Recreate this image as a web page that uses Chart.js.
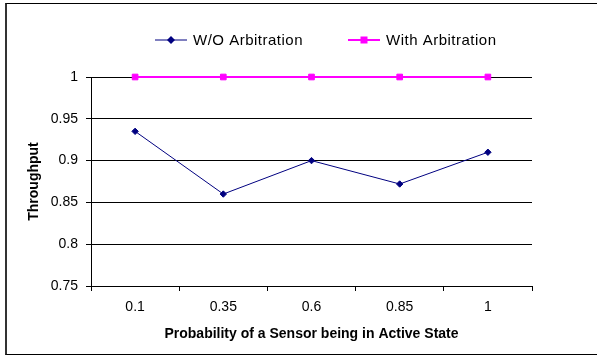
<!DOCTYPE html>
<html lang="en">
<head>
  <meta charset="UTF-8" />
  <title>Throughput vs Probability of Active State</title>
  <script src="https://cdn.jsdelivr.net/npm/chart.js"></script>
  <style>
    body {
      margin: 0;
      background: #fff;
      overflow: hidden;
    }
    .frame {
      position: absolute;
      left: 5px;
      top: 3px;
      width: 640px;
      height: 350px;
      border-top: 1px solid #000;
      border-bottom: 1px solid #000;
      border-left: 2px solid #333;
    }
    #chart {
      position: absolute;
      left: 0;
      top: 0;
    }
  </style>
</head>
<body>
  <div class="frame"></div>
  <canvas id="chart" width="597" height="356"></canvas>

  <script>
    // data
    const probLabels = ['0.1', '0.35', '0.6', '0.85', '1'];
    const withoutArb = [0.935, 0.86, 0.9, 0.872, 0.91];
    const withArb = [1, 1, 1, 1, 1];

    const NAVY = '#000080';
    const MAGENTA = '#ff00ff';
    const FONT = '"Liberation Sans", Arial, sans-serif';

    // legend drawn by hand: line + marker + text, like the Excel one
    const legendPos = [155, 348];
    const excelLegend = {
      id: 'excelLegend',
      afterDraw(chart) {
        const ctx = chart.ctx;
        const y = 40;
        ctx.save();
        chart.data.datasets.forEach((ds, i) => {
          const x0 = legendPos[i];
          ctx.strokeStyle = ds.borderColor;
          ctx.lineWidth = ds.borderWidth;
          ctx.beginPath();
          ctx.moveTo(x0, y);
          ctx.lineTo(x0 + 32, y);
          ctx.stroke();

          const cx = x0 + 16;
          ctx.fillStyle = ds.pointBackgroundColor;
          ctx.beginPath();
          if (ds.pointStyle === 'rectRot') {
            ctx.moveTo(cx, y - 4);
            ctx.lineTo(cx + 4, y);
            ctx.lineTo(cx, y + 4);
            ctx.lineTo(cx - 4, y);
            ctx.closePath();
          } else {
            ctx.rect(cx - 3.5, y - 3.5, 7, 7);
          }
          ctx.fill();

          ctx.fillStyle = '#000';
          ctx.font = '15px ' + FONT;
          if ('letterSpacing' in ctx) ctx.letterSpacing = '0.5px';
          ctx.textBaseline = 'middle';
          ctx.textAlign = 'left';
          ctx.fillText(ds.label, x0 + 38, y + 1);
        });
        ctx.restore();
      }
    };

    new Chart(document.getElementById('chart'), {
      type: 'line',
      data: {
        labels: probLabels,
        datasets: [
          {
            label: 'W/O Arbitration',
            data: withoutArb,
            borderColor: NAVY,
            backgroundColor: NAVY,
            borderWidth: 1,
            pointStyle: 'rectRot',
            pointRadius: 3.2,
            pointBorderWidth: 1,
            pointBackgroundColor: NAVY,
            pointBorderColor: NAVY,
            tension: 0,
            clip: false
          },
          {
            label: 'With Arbitration',
            data: withArb,
            borderColor: MAGENTA,
            backgroundColor: MAGENTA,
            borderWidth: 2,
            pointStyle: 'rect',
            pointRadius: 4,
            pointBorderWidth: 1,
            pointBackgroundColor: MAGENTA,
            pointBorderColor: MAGENTA,
            tension: 0,
            clip: false
          }
        ]
      },
      options: {
        responsive: false,
        animation: false,
        devicePixelRatio: 1,
        layout: {
          padding: { left: 0, top: 77, right: 65, bottom: 0 }
        },
        plugins: {
          legend: { display: false },
          tooltip: { enabled: false }
        },
        scales: {
          x: {
            type: 'category',
            offset: true,
            afterFit: s => { s.height = 70; },
            grid: {
              offset: true,
              drawOnChartArea: false,
              drawTicks: true,
              tickLength: 5,
              color: '#000',
              tickColor: '#000',
              lineWidth: 1
            },
            border: { display: true, color: '#000', width: 1 },
            ticks: {
              color: '#000',
              padding: 8,
              maxRotation: 0,
              font: { family: FONT, size: 14 }
            },
            title: {
              display: true,
              text: 'Probability of a Sensor being in Active State',
              color: '#000',
              padding: { top: 0, bottom: 13 },
              font: { family: FONT, size: 14, weight: 'bold' }
            }
          },
          y: {
            min: 0.75,
            max: 1,
            afterFit: s => { s.width = 91; },
            grid: {
              color: '#000',
              tickColor: '#000',
              lineWidth: 1,
              drawTicks: true,
              tickLength: 5
            },
            border: { display: true, color: '#000', width: 1 },
            ticks: {
              stepSize: 0.05,
              color: '#000',
              padding: 8,
              font: { family: FONT, size: 14 },
              callback: v => String(Number(v.toFixed(2)))
            },
            title: {
              display: true,
              text: 'Throughput',
              color: '#000',
              padding: { top: 26, bottom: 0 },
              font: { family: FONT, size: 14, weight: 'bold' }
            }
          }
        }
      },
      plugins: [excelLegend]
    });
  </script>
</body>
</html>
